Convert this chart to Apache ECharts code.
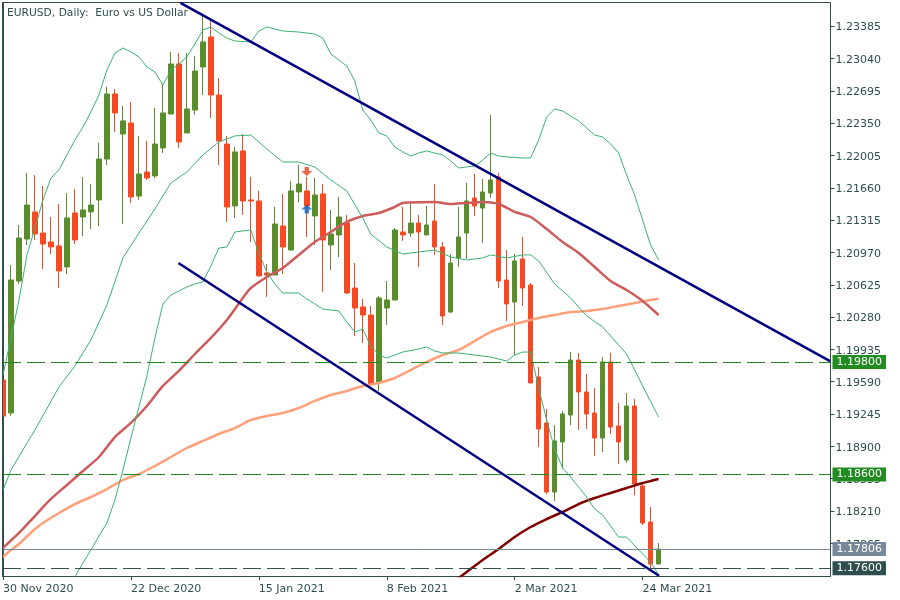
<!DOCTYPE html>
<html><head><meta charset="utf-8">
<style>html,body{margin:0;padding:0;background:#fff;overflow:hidden}#c{width:900px;height:600px}</style>
<script src="https://cdn.jsdelivr.net/npm/echarts@6/dist/echarts.min.js"></script>
</head><body><div id="c"></div>
<script>
const opens=[1.19609,1.19256,1.20665,1.21113,1.21402,1.21177,1.21081,1.21039,1.20815,1.21391,1.21348,1.21402,1.21530,1.21967,1.22661,1.22234,1.22351,1.21572,1.21828,1.21786,1.22085,1.22447,1.22981,1.22245,1.22490,1.22949,1.23269,1.22650,1.22127,1.21466,1.22053,1.21530,1.21519,1.20751,1.20729,1.21252,1.20996,1.21615,1.21626,1.21359,1.21594,1.21049,1.21156,1.21284,1.20590,1.20388,1.20302,1.19587,1.20377,1.20462,1.21188,1.21177,1.21284,1.21156,1.21305,1.21028,1.20334,1.20911,1.21177,1.21551,1.21444,1.21604,1.21775,1.20676,1.20441,1.20900,1.20622,1.19641,1.19150,1.18413,1.18947,1.19235,1.19822,1.19481,1.19256,1.18990,1.19801,1.19118,1.18755,1.19331,1.18477,1.18093,1.17645];
const closes=[1.19224,1.20676,1.21124,1.21476,1.21167,1.21060,1.21028,1.20772,1.21338,1.21103,1.21423,1.21476,1.21967,1.22661,1.22458,1.22373,1.21562,1.21807,1.21764,1.22127,1.22458,1.22981,1.22149,1.22501,1.22906,1.23216,1.22650,1.22159,1.21455,1.22042,1.21519,1.21519,1.20719,1.20729,1.21273,1.21028,1.21626,1.21700,1.21466,1.21583,1.21103,1.21167,1.21348,1.20537,1.20377,1.20302,1.19566,1.20484,1.20462,1.21209,1.21156,1.21284,1.21188,1.21263,1.21028,1.20292,1.20857,1.21135,1.21519,1.21466,1.21615,1.21743,1.20665,1.20420,1.20879,1.20590,1.19577,1.19086,1.18413,1.18958,1.19246,1.19822,1.19481,1.19246,1.18990,1.19801,1.19107,1.18947,1.19331,1.18499,1.18083,1.17645,1.17805];
const lows=[1.19224,1.19224,1.20633,1.21049,1.21103,1.20793,1.20953,1.20590,1.20740,1.21060,1.21145,1.21220,1.21252,1.21903,1.22255,1.21273,1.21498,1.21530,1.21743,1.21764,1.22031,1.22447,1.22085,1.22245,1.22437,1.22650,1.22405,1.21903,1.21295,1.21338,1.21370,1.21081,1.20719,1.20494,1.20729,1.20740,1.20996,1.21508,1.21135,1.21049,1.20548,1.20783,1.20921,1.20526,1.20078,1.20004,1.19566,1.19491,1.20196,1.20462,1.21092,1.21135,1.20815,1.21156,1.20943,1.20196,1.20324,1.20815,1.20900,1.21359,1.21071,1.21551,1.20590,1.20238,1.19875,1.20398,1.19577,1.18894,1.18392,1.18317,1.18659,1.19128,1.19075,1.19086,1.18798,1.18840,1.19032,1.18712,1.18723,1.18381,1.18061,1.17581,1.17645];
const highs=[1.19609,1.20836,1.21263,1.21818,1.21796,1.21679,1.21348,1.21487,1.21604,1.21647,1.21775,1.21700,1.22138,1.22736,1.22714,1.22533,1.22575,1.22213,1.22159,1.22511,1.22757,1.23109,1.23098,1.23098,1.23066,1.23504,1.23451,1.22832,1.22213,1.22095,1.22234,1.21775,1.21626,1.20847,1.21455,1.21594,1.21732,1.21903,1.21775,1.21764,1.21700,1.21423,1.21562,1.21370,1.20857,1.20473,1.20398,1.20505,1.20665,1.21231,1.21455,1.21508,1.21370,1.21466,1.21700,1.21081,1.20953,1.21455,1.21711,1.21807,1.21754,1.22437,1.21818,1.20996,1.20953,1.21135,1.20644,1.19747,1.19299,1.19128,1.19278,1.19907,1.19897,1.19673,1.19523,1.19854,1.19897,1.19363,1.19470,1.19406,1.18520,1.18253,1.17869];

const maFastBars=[0,2,4,6,8,10,12,14,16,18,20,22,24,26,28,30,31,33,35,37,39,41,43,45,47,49,50,54,56,58,60,62,64,66,68,70,72,74,76,78,80,82];
const maFastVals=[1.17816,1.17976,1.18157,1.18339,1.18488,1.18637,1.18787,1.19000,1.19150,1.19331,1.19545,1.19705,1.19886,1.20057,1.20249,1.20484,1.20590,1.20708,1.20804,1.20943,1.21081,1.21188,1.21295,1.21359,1.21391,1.21455,1.21498,1.21508,1.21487,1.21498,1.21508,1.21487,1.21402,1.21348,1.21220,1.21081,1.20964,1.20815,1.20665,1.20569,1.20452,1.20302];
const maMidBars=[0,1,2,4,5,7,9,11,13,15,17,19,21,23,25,27,29,31,33,35,37,39,41,43,45,47,49,51,53,55,57,59,61,63,65,67,69,71,73,75,77,79,81,82];
const maMidVals=[1.17720,1.17794,1.17858,1.18019,1.18083,1.18189,1.18285,1.18360,1.18445,1.18541,1.18605,1.18691,1.18787,1.18883,1.18958,1.19032,1.19096,1.19182,1.19224,1.19256,1.19310,1.19385,1.19449,1.19491,1.19545,1.19577,1.19630,1.19715,1.19801,1.19875,1.19929,1.20025,1.20121,1.20185,1.20228,1.20270,1.20302,1.20334,1.20345,1.20366,1.20398,1.20430,1.20462,1.20473];
const maSlowBars=[56,58,60,62,64,66,68,70,72,74,76,78,80,81,82];
const maSlowVals=[1.17432,1.17560,1.17688,1.17805,1.17933,1.18040,1.18125,1.18200,1.18285,1.18349,1.18403,1.18456,1.18509,1.18531,1.18552];

const bbUpperBars=[0,1,2,3,4,5,6,7,8,9,10,11,12,13,14,15,16,17,18,19,20,21,22,23,24,25,26,27,28,29,31,32,33,35,37,39,40,41,43,44,45,46,47,48,49,50,51,52,53,54,55,56,57,58,59,60,61,62,63,65,66,67,68,69,70,71,72,73,74,75,76,77,78,79,80,81,82];
const bbUpperVals=[1.19662,1.20057,1.20462,1.20943,1.21231,1.21530,1.21764,1.21850,1.22010,1.22170,1.22309,1.22469,1.22650,1.22917,1.23098,1.23152,1.23109,1.23056,1.22949,1.22896,1.22757,1.22917,1.22981,1.23056,1.23194,1.23344,1.23376,1.23312,1.23258,1.23226,1.23216,1.23333,1.23376,1.23333,1.23322,1.23301,1.23258,1.23088,1.22960,1.22800,1.22490,1.22383,1.22245,1.22213,1.22095,1.22042,1.21999,1.22031,1.22053,1.22031,1.22010,1.21946,1.21871,1.21882,1.21892,1.21956,1.22031,1.21999,1.21989,1.21978,1.21978,1.22170,1.22415,1.22501,1.22479,1.22426,1.22373,1.22298,1.22223,1.22202,1.22127,1.22031,1.21796,1.21583,1.21316,1.21049,1.20889];
const bbMiddleBars=[0,1,3,4,7,9,11,13,15,17,19,21,23,25,27,29,31,33,35,37,39,41,43,45,46,48,50,52,54,56,58,60,61,63,65,66,67,69,71,73,75,77,78,80,82];
const bbMiddleVals=[1.18435,1.18648,1.18936,1.19075,1.19534,1.19758,1.20036,1.20409,1.20911,1.21177,1.21434,1.21711,1.21828,1.22010,1.22149,1.22213,1.22223,1.22074,1.21935,1.21935,1.21882,1.21743,1.21626,1.21338,1.21167,1.21028,1.20953,1.20975,1.20996,1.20921,1.20889,1.20911,1.20943,1.20911,1.20943,1.20943,1.20879,1.20633,1.20484,1.20292,1.20174,1.19982,1.19886,1.19545,1.19214];
const bbLowerBars=[8,9,10,11,12,13,14,15,16,17,18,19,20,21,22,23,24,25,26,27,28,29,30,31,32,33,34,35,37,38,39,40,41,42,43,44,45,46,47,48,49,50,52,53,54,55,57,59,61,63,64,65,66,67,68,69,70,71,73,74,75,77,78,80,81,82];
const bbLowerVals=[1.17314,1.17506,1.17656,1.17794,1.17944,1.18083,1.18328,1.18648,1.18990,1.19320,1.19651,1.20057,1.20420,1.20516,1.20558,1.20601,1.20633,1.20655,1.20825,1.21017,1.21028,1.21188,1.21199,1.21209,1.20964,1.20761,1.20633,1.20537,1.20537,1.20473,1.20420,1.20366,1.20356,1.20345,1.20228,1.20121,1.20153,1.19972,1.19875,1.19843,1.19875,1.19907,1.19939,1.19961,1.19918,1.19897,1.19897,1.19875,1.19854,1.19811,1.19875,1.19907,1.19907,1.19523,1.19182,1.18872,1.18669,1.18573,1.18360,1.18232,1.18168,1.17933,1.17933,1.17752,1.17666,1.17528];

const trendUpperBars=[22.19,103.44];
const trendUpperVals=[1.23632,1.19811];
const trendLowerBars=[21.94,82.06];
const trendLowerVals=[1.20857,1.17520];

const levelPrices=[1.19800,1.18600];
const currentPrice=1.17806;
const lowPrice=1.17600;
const sellArrow=[38,1.21834];
const buyArrow=[38,1.21434];

const dateTicks=[0,16,32,48,64,80];
const dateLabels=['30 Nov 2020','22 Dec 2020','15 Jan 2021','8 Feb 2021','2 Mar 2021','24 Mar 2021'];
const priceTicks=[1.23385,1.23040,1.22695,1.22350,1.22005,1.21660,1.21315,1.20970,1.20625,1.20280,1.19935,1.19590,1.19245,1.18900,1.18555,1.18210,1.17865];
const titleText='EURUSD, Daily:  Euro vs US Dollar';

const INK='#2F4F4F',GREEN='#5B8C2E',RED='#F44B25',BAND='#3CB371',FONT='"DejaVu Sans",sans-serif';
const pairs=(a,b)=>a.map((x,i)=>[x,b[i]]);
const lineS=(bars,vals,color,width,z,smooth)=>({type:'line',data:pairs(bars,vals),symbol:'none',silent:true,animation:false,z,smooth:smooth||false,
  lineStyle:{color,width}});
const lvl=(v,bg,lc,type)=>({yAxis:v,lineStyle:{color:lc,width:1,type},
  label:{show:true,position:'end',distance:2,formatter:v.toFixed(5),backgroundColor:bg,color:'#fff',
    fontFamily:FONT,fontSize:11,padding:[1,4,1,4],lineHeight:12}});
const frameLine={show:true,onZero:false,lineStyle:{color:INK,width:1}};

const chart=echarts.init(document.getElementById('c'),null,{renderer:'canvas'});
chart.setOption({
  animation:false,
  backgroundColor:'#fff',
  title:{text:titleText,left:2,top:3,textStyle:{color:INK,fontFamily:FONT,fontSize:10.7,fontWeight:'normal'}},
  grid:{left:2.5,top:2.5,width:828,height:573.5,show:false},
  graphic:[
    {type:'rect',z:100,silent:true,shape:{x:0,y:0,width:2,height:577},style:{fill:'#fff'}},
    {type:'rect',z:100,silent:true,shape:{x:2,y:2,width:1,height:575},style:{fill:INK}}
  ],
  xAxis:[{type:'value',min:0,max:103.5,splitLine:{show:false},
    axisLine:frameLine,
    axisTick:{show:true,length:4,lineStyle:{color:INK},customValues:dateTicks},
    axisLabel:{color:INK,fontFamily:FONT,fontSize:11,align:'left',margin:8,customValues:dateTicks,
      formatter:v=>dateLabels[dateTicks.indexOf(v)]||''}},
    {type:'value',position:'top',min:0,max:103.5,splitLine:{show:false},axisLine:frameLine,axisTick:{show:false},axisLabel:{show:false}}],
  yAxis:[{type:'value',position:'right',min:1.17517,max:1.23637,splitLine:{show:false},
    axisLine:frameLine,
    axisTick:{show:true,length:4,lineStyle:{color:INK},customValues:priceTicks},
    axisLabel:{color:INK,fontFamily:FONT,fontSize:11,margin:5,verticalAlign:'top',lineHeight:3,customValues:priceTicks,formatter:v=>v.toFixed(5)}},
    {type:'value',position:'left',min:1.17517,max:1.23637,splitLine:{show:false},axisLine:frameLine,axisTick:{show:false},axisLabel:{show:false}}],
  series:[
    {type:'line',data:[[0,lowPrice]],silent:true,z:1,symbol:'none',showSymbol:false,
      markLine:{silent:true,symbol:'none',animation:false,precision:5,data:[
        lvl(levelPrices[0],'#228B22','#228B22',[18,6]),
        lvl(levelPrices[1],'#228B22','#228B22',[18,6]),
        lvl(currentPrice,'#778899','#778899','solid'),
        lvl(lowPrice,INK,INK,[18,6])
      ]}},
    {type:'candlestick',z:2,silent:true,animation:false,barWidth:5,clip:true,
      data:opens.map((o,i)=>[i,o,closes[i],lows[i],highs[i]]),
      encode:{x:0,y:[1,2,3,4]},
      itemStyle:{color:GREEN,color0:RED,borderColor:GREEN,borderColor0:RED,borderWidth:1}},
    lineS(maSlowBars,maSlowVals,'#800000',2.5,3,0.25),
    lineS(maMidBars,maMidVals,'#FFA07A',2.5,3,0.25),
    lineS(maFastBars,maFastVals,'#CD5C5C',2.5,3,0.25),
    lineS(bbUpperBars,bbUpperVals,BAND,1,4),
    lineS(bbMiddleBars,bbMiddleVals,BAND,1,4),
    lineS(bbLowerBars,bbLowerVals,BAND,1,4),
    lineS(trendUpperBars,trendUpperVals,'#000080',2.5,5),
    lineS(trendLowerBars,trendLowerVals,'#000080',2.5,5),
    {type:'scatter',z:6,silent:true,animation:false,data:[sellArrow],symbolSize:[11,9],
      symbol:'path://M3,0 L7,0 L7,4 L10,4 L5,9 L0,4 L3,4 Z',itemStyle:{color:'#E63E1C'}},
    {type:'scatter',z:6,silent:true,animation:false,data:[buyArrow],symbolSize:[11,9],
      symbol:'path://M5,0 L10,5 L7,5 L7,9 L3,9 L3,5 L0,5 Z',itemStyle:{color:'#0D5FB5'}}
  ]
});
</script></body></html>
